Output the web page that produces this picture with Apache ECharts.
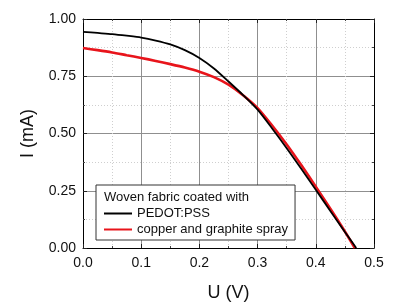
<!DOCTYPE html>
<html>
<head>
<meta charset="utf-8">
<script src="https://cdn.jsdelivr.net/npm/echarts@6/dist/echarts.min.js"></script>
<style>html,body{margin:0;padding:0;background:#fff}#c{width:414px;height:307px}</style>
</head>
<body>
<div id="c"></div>
<script>
var voltage = [0, 0.025, 0.05, 0.075, 0.1, 0.125, 0.15, 0.175, 0.2, 0.225, 0.25, 0.275, 0.3, 0.325, 0.35, 0.375, 0.4, 0.425, 0.45, 0.4695];
var pedotI = [0.944, 0.939, 0.934, 0.927, 0.919, 0.906, 0.889, 0.864, 0.830, 0.784, 0.727, 0.668, 0.604, 0.522, 0.436, 0.346, 0.254, 0.162, 0.070, 0.0];
var voltageCu = [0, 0.025, 0.05, 0.075, 0.1, 0.125, 0.15, 0.175, 0.2, 0.225, 0.25, 0.275, 0.3, 0.325, 0.35, 0.375, 0.4, 0.425, 0.45, 0.467];
var copperI = [0.873, 0.864, 0.854, 0.842, 0.830, 0.817, 0.803, 0.788, 0.770, 0.746, 0.713, 0.667, 0.611, 0.535, 0.452, 0.362, 0.268, 0.172, 0.072, 0.0];
var legendTitle = 'Woven fabric coated with';
var seriesNames = ['PEDOT:PSS', 'copper and graphite spray'];
var xName = 'U (V)', yName = 'I (mA)';

function pairs(xs, ys){ return xs.map(function(x,i){ return [x, ys[i]]; }); }

var font = "'Liberation Sans', Arial, sans-serif";
var majorLine = {show:true, lineStyle:{color:'#8f8f8f', width:1, type:'solid'}};
var minorLine = {show:true, lineStyle:{color:'#cfcfcf', width:1, type:[1,2]}};
function xAx(pos, labels){
  return {type:'value', position:pos, min:0, max:0.5, interval:0.1,
    axisLine:{show:true, onZero:false, lineStyle:{color:'#000', width:1}},
    axisTick:{show:true, inside:true, length:4, lineStyle:{color:'#222'}},
    minorTick:{show:true, splitNumber:2, length:2, lineStyle:{color:'#444'}},
    splitLine: labels ? majorLine : {show:false},
    minorSplitLine: labels ? minorLine : {show:false},
    axisLabel:{show:labels, color:'#111', fontSize:14, fontFamily:font, margin:8,
      formatter:function(v){return v.toFixed(1);}},
    name: labels ? xName : '', nameLocation:'middle', nameGap:36,
    nameTextStyle:{fontSize:18, fontFamily:font, color:'#111'}};
}
function yAx(pos, labels){
  return {type:'value', position:pos, min:0, max:1, interval:0.25,
    axisLine:{show:true, onZero:false, lineStyle:{color:'#000', width:1}},
    axisTick:{show:true, inside:true, length:4, lineStyle:{color:'#222'}},
    minorTick:{show:true, splitNumber:2, length:2, lineStyle:{color:'#444'}},
    splitLine: labels ? majorLine : {show:false},
    minorSplitLine: labels ? minorLine : {show:false},
    axisLabel:{show:labels, color:'#111', fontSize:14, fontFamily:font, margin:7,
      formatter:function(v){return v.toFixed(2);}},
    name: labels ? yName : '', nameLocation:'middle', nameGap:46, nameRotate:90,
    nameTextStyle:{fontSize:18, fontFamily:font, color:'#111'}};
}

var chart = echarts.init(document.getElementById('c'), null, {renderer:'canvas'});
chart.setOption({
  animation:false,
  backgroundColor:'#fff',
  grid:{left:83, right:40, top:19, bottom:55, containLabel:false},
  xAxis:[xAx('bottom', true), xAx('top', false)],
  yAxis:[yAx('left', true), yAx('right', false)],
  legend:{
    orient:'vertical', left:96, top:185,
    backgroundColor:'#fff', borderColor:'#333', borderWidth:1,
    padding:[22, 7, 4, 7], itemGap:3, itemWidth:28, itemHeight:14,
    itemStyle:{opacity:0, borderWidth:0},
    textStyle:{fontSize:13, fontFamily:font, color:'#111'},
    data:seriesNames
  },
  graphic:[{type:'text', left:104, top:191, z:100, zlevel:0,
    style:{text:legendTitle, fontSize:13, fontFamily:font, fill:'#111'}}],
  series:[
    {name:seriesNames[0], type:'line', data:pairs(voltage, pedotI), symbol:'none', smooth:0.25,
     lineStyle:{color:'#000', width:1.8}, itemStyle:{color:'#000'}, z:3},
    {name:seriesNames[1], type:'line', data:pairs(voltageCu, copperI), symbol:'none', smooth:0.25,
     lineStyle:{color:'#e8141b', width:2.6}, itemStyle:{color:'#e8141b'}, z:2}
  ]
});
</script>
</body>
</html>
